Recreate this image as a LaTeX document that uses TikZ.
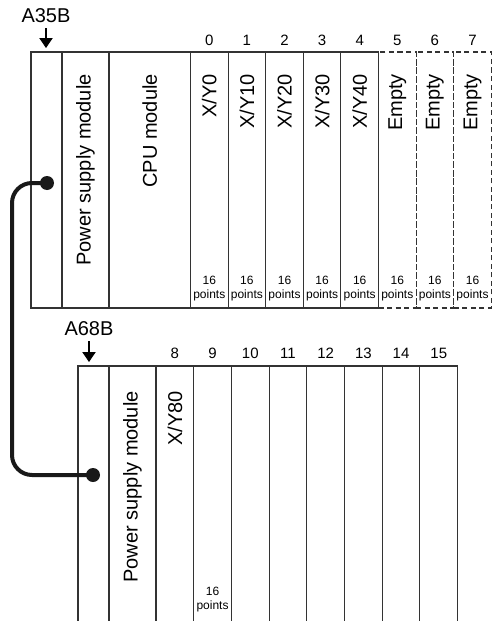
\documentclass[tikz,border=0pt]{standalone}
\usepackage{fontspec}
\setmainfont{Liberation Sans}
\usetikzlibrary{arrows.meta}
\tikzset{
    frame/.style={draw=black!80, line width=0.8pt},
    emptyframe/.style={frame, dash pattern=on 3.8pt off 2.6pt},
    modtext/.style={rotate=90, anchor=east, inner sep=0pt, font=\fontsize{15}{17}\selectfont},
    slotnum/.style={inner sep=0pt, font=\fontsize{11.25}{13}\selectfont},
    pointstext/.style={align=center, inner sep=0pt, font=\fontsize{9}{10.5}\selectfont},
    baselabel/.style={inner sep=0pt, font=\fontsize{15}{17}\selectfont},
    pointer/.style={-{Triangle[width=10pt, length=7.5pt]}, line width=0.8pt, shorten <=4pt},
    jack/.style={circle, fill=black!90, inner sep=0pt, minimum size=10.5pt},
    cable/.style={line width=3pt, rounded corners=15pt, draw=black!90}
}

\begin{document}
\begin{tikzpicture}[x=0.75pt, y=-0.75pt]
        \useasboundingbox (0,0) rectangle (493,621);

        % ---------------- A35B ----------------
        \begin{scope}
            % Base slot, power supply and CPU
            \draw[frame] (31,52) rectangle (62,308);
            \draw[frame] (62,52) rectangle (109,308);
            \draw[frame] (109,52) rectangle (190.5,308);

            % I/O slots 0-4 (mounted)
            \foreach \k in {0,...,4} {
                \draw[frame] (190.5+37.6*\k,52) rectangle ++(37.6,256);
            }
            % Slots 5-7 (empty)
            \foreach \k in {5,...,7} {
                \draw[emptyframe] (190.5+37.6*\k,52) rectangle ++(37.6,256);
            }

            \node[modtext] (tPower) at (85.5,74) {Power supply module};
            \node[modtext] (tCpu) at (149.7,74) {CPU module};
            \foreach \t [count=\k from 0] in {X/Y0, X/Y10, X/Y20, X/Y30, X/Y40, Empty, Empty, Empty} {
                \node[modtext] (tMod\k) at (209.3+37.6*\k,74) {\t};
            }

            % Slot numbers and point counts
            \foreach \k in {0,...,7} {
                \node[slotnum] (tNum\k) at (209.3+37.6*\k,40) {\k};
                \node[pointstext] (tPts\k) at (209.3+37.6*\k,289) {16\\points};
            }

            \node[baselabel] (lblA) at (46,15.5) {A35B};
            \coordinate (tipA) at (46,48);
            \draw[pointer] (lblA.south) -- (tipA);

            \node[jack] (jackA) at (47,183) {};
        \end{scope}

        % ---------------- A68B ----------------
        \begin{scope}
            % Base slot and power supply (open at the bottom)
            \draw[frame] (78,52+314) rectangle (109,630);
            \draw[frame] (109,366) rectangle (156,630);

            % Slots 8-15
            \foreach \j in {8,...,15} {
                \draw[frame] (156+37.7*\j-301.6,366) rectangle ++(37.7,264);
                \node[slotnum] (bNum\j) at (174.85+37.7*\j-301.6,353) {\j};
            }

            \node[modtext] (bPower) at (132.5,391) {Power supply module};
            \node[modtext] (bMod8) at (174.85,391) {X/Y80};
            \node[pointstext] (bPts9) at (212.55,600) {16\\points};

            \node[baselabel] (lblB) at (89,328.5) {A68B};
            \coordinate (tipB) at (89,362);
            \draw[pointer] (lblB.south) -- (tipB);

            \node[jack] (jackB) at (93,475) {};
        \end{scope}

        % Extension cable between the two bases
        \coordinate (cableBend) at (12,330);
        \draw[cable] (jackA.center) -| (cableBend) |- (jackB.center);
    \end{tikzpicture}
\end{document}
